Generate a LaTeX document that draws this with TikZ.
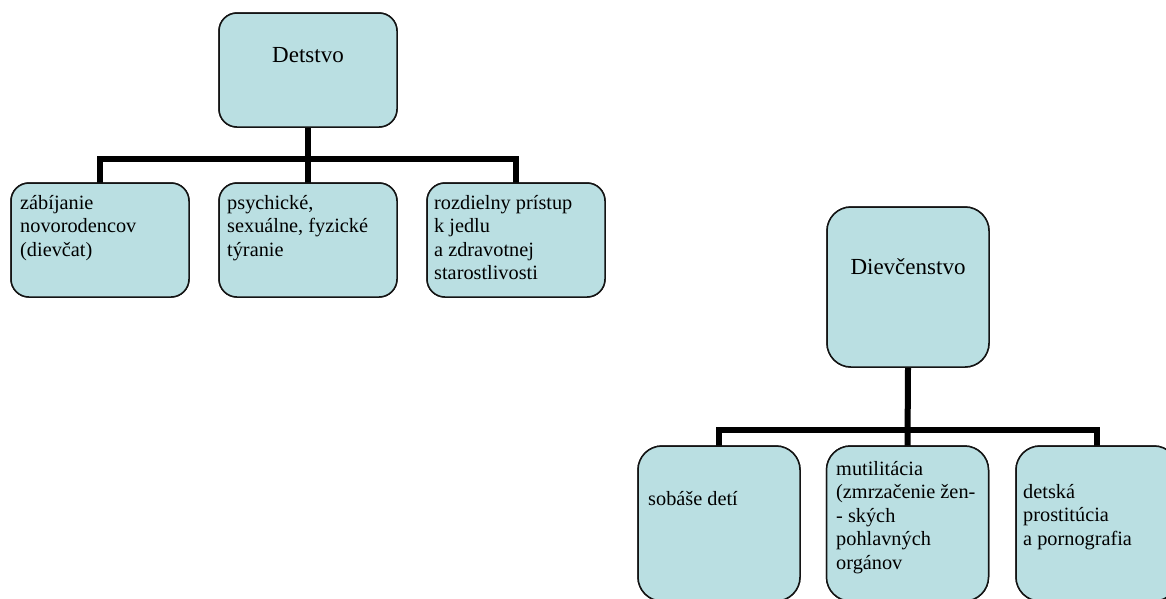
\documentclass[tikz,border=0pt]{standalone}
\usepackage{fontspec}
\setmainfont{Liberation Serif}
\definecolor{boxfill}{RGB}{186,223,226}
\definecolor{boxline}{RGB}{20,20,20}
\tikzset{
  orgbox/.style={draw=boxline, line width=1.5pt, fill=boxfill, rectangle, inner sep=0pt},
  smallbox/.style={orgbox, rounded corners=18pt, minimum width=178pt, minimum height=114pt},
  bigroot/.style={orgbox, rounded corners=24pt, minimum width=162pt, minimum height=160pt},
  bigchild/.style={orgbox, rounded corners=24pt, minimum width=162pt, minimum height=155pt},
  conn/.style={draw=black, line width=6pt, line join=miter, line cap=rect},
  roottext/.style={font=\fontsize{23}{27}\selectfont, inner sep=0pt, anchor=base},
  childtext/.style={font=\fontsize{20.3}{23.5}\selectfont, inner sep=0pt, anchor=base west, align=left},
}
\begin{document}
\begin{tikzpicture}[x=1pt,y=-1pt]
\useasboundingbox (0,0) rectangle (1166,598);
% ---------- tree 1 ----------
\node[smallbox] (r1) at (308,70) {};
\node[smallbox] (a1) at (100,240) {};
\node[smallbox] (a2) at (308,240) {};
\node[smallbox] (a3) at (516,240) {};
% ---------- tree 2 ----------
\node[bigroot] (r2) at (908,287) {};
\node[bigchild] (b1) at (719,523.5) {};
\node[bigchild] (b2) at (907.5,523.5) {};
\node[bigchild] (b3) at (1097,523.5) {};
% ---------- connectors ----------
\draw[conn] (r1.south) -- (a2.north);
\draw[conn] (a1.north) |- (a3.north |- 0,159) -- (a3.north);
\draw[conn] (r2.south) -- (b2.north);
\draw[conn] (b1.north) |- (b3.north |- 0,430) -- (b3.north);
% redraw boxes over connector ends
\node[smallbox] at (r1) {};
\node[smallbox] at (a1) {};
\node[smallbox] at (a2) {};
\node[smallbox] at (a3) {};
\node[bigroot] at (r2) {};
\node[bigchild] at (b1) {};
\node[bigchild] at (b2) {};
\node[bigchild] at (b3) {};
% ---------- texts (anchor = baseline of last line) ----------
\node[roottext] (t0) at (308,62) {Detstvo};
\node[childtext] (t1) at (20,256) {zábíjanie\\novorodencov\\(dievčat)};
\node[childtext] (t2) at (227,256) {psychické,\\sexuálne, fyzické\\týranie};
\node[childtext] (t3) at (434,279.5) {rozdielny prístup\\k jedlu\\a zdravotnej\\starostlivosti};
\node[roottext] (u0) at (908,274) {Dievčenstvo};
\node[childtext] (u1) at (648,505) {sobáše detí};
\node[childtext] (u2) at (836,569) {mutilitácia\\(zmrzačenie žen-\\- ských\\pohlavných\\orgánov};
\node[childtext] (u3) at (1023,545) {detská\\prostitúcia\\a pornografia};
\end{tikzpicture}
\end{document}
